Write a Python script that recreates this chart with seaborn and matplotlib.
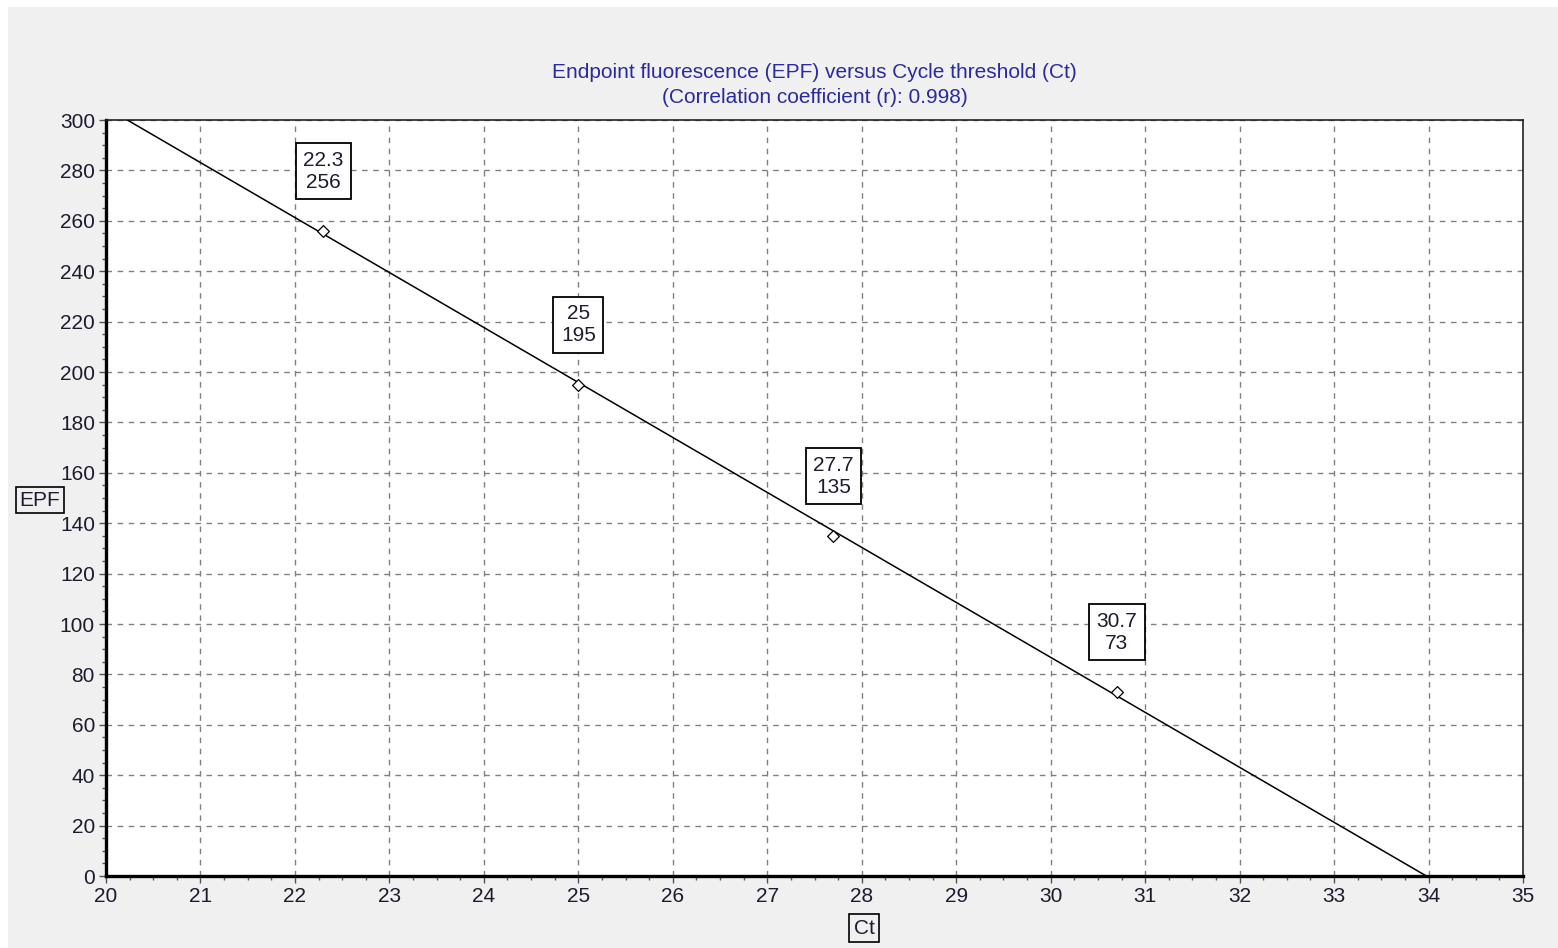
import numpy as np
import pandas as pd
import matplotlib.pyplot as plt
import seaborn as sns
from matplotlib.patches import Rectangle
from matplotlib.ticker import MultipleLocator

## datos

ct = [22.3, 25, 27.7, 30.7]
epf = [256, 195, 135, 73]
etiquetas = ["22.3\n256", "25\n195", "27.7\n135", "30.7\n73"]
titulo = "Endpoint fluorescence (EPF) versus Cycle threshold (Ct)\n(Correlation coefficient (r): 0.998)"

#%%

df = pd.DataFrame({"Ct": ct, "EPF": epf})

pendiente, ordenada = np.polyfit(df["Ct"], df["EPF"], 1)  # recta de ajuste
x_fit = np.linspace(20, 35, 200)
df_fit = pd.DataFrame({"Ct": x_fit, "EPF": pendiente * x_fit + ordenada})

#%%

sns.set_style("white")
plt.rcParams["font.family"] = ["Liberation Sans", "DejaVu Sans"]

fig = plt.figure(figsize=(15.58, 9.48), dpi=100)
fig.patch.set_facecolor("white")
fondo = Rectangle((8 / 1558, 0), 1 - 8 / 1558, 1 - 7 / 948,
                  transform=fig.transFigure, facecolor="#f0f0f0",
                  edgecolor="none", zorder=-10)
fig.add_artist(fondo)

ax = fig.add_axes([106 / 1558, 72 / 948, 1417 / 1558, 756 / 948])
ax.set_zorder(1)
ax.set_facecolor("white")

sns.lineplot(ax=ax, data=df_fit, x="Ct", y="EPF", color="black", lw=1.1, zorder=3)
sns.scatterplot(ax=ax, data=df, x="Ct", y="EPF", marker="D", s=36,
                facecolor="white", edgecolor="black", linewidth=0.9, zorder=4)

for x, y, txt in zip(ct, epf, etiquetas):
    ax.annotate(txt, (x, y), xytext=(0, 43), textcoords="offset points",
                ha="center", va="center", fontsize=15, color="#1c1c30",
                linespacing=1.2,
                bbox=dict(boxstyle="square,pad=0.36", fc="white", ec="black", lw=1.3),
                zorder=5)

ax.set_xlim(20, 35)
ax.set_ylim(0, 300)
ax.xaxis.set_major_locator(MultipleLocator(1))
ax.xaxis.set_minor_locator(MultipleLocator(0.25))
ax.yaxis.set_major_locator(MultipleLocator(20))
ax.yaxis.set_minor_locator(MultipleLocator(5))

ax.tick_params(which="major", direction="out", length=5, width=1, colors="#555555",
               labelcolor="#1c1c30", labelsize=15, bottom=True, left=True)
ax.tick_params(which="minor", direction="out", length=3, width=1, colors="#555555",
               bottom=True, left=True)
ax.tick_params(axis="x", pad=3)
ax.tick_params(axis="y", pad=3)

ax.grid(True, which="major", color="#808080", linestyle=(0, (4, 4)), lw=1)

for lado in ["left", "bottom"]:
    ax.spines[lado].set_linewidth(2.4)
    ax.spines[lado].set_color("black")
for lado in ["top", "right"]:
    ax.spines[lado].set_linewidth(1.2)
    ax.spines[lado].set_color("#222222")

ax.set_xlabel("")
ax.set_ylabel("")
ax.text(-0.0466, 0.497, "EPF", transform=ax.transAxes, ha="center", va="center",
        fontsize=15, color="#1c1c30",
        bbox=dict(boxstyle="square,pad=0.17", fc="#f0f0f0", ec="black", lw=1.2))
ax.text(0.535, -0.069, "Ct", transform=ax.transAxes, ha="center", va="center",
        fontsize=15, color="#1c1c30",
        bbox=dict(boxstyle="square,pad=0.22", fc="#f0f0f0", ec="black", lw=1.2))

ax.set_title(titulo, color="#2a2aa0", fontsize=15, linespacing=1.4, pad=12)

fig.savefig("out.png", dpi=100, facecolor=fig.get_facecolor())
